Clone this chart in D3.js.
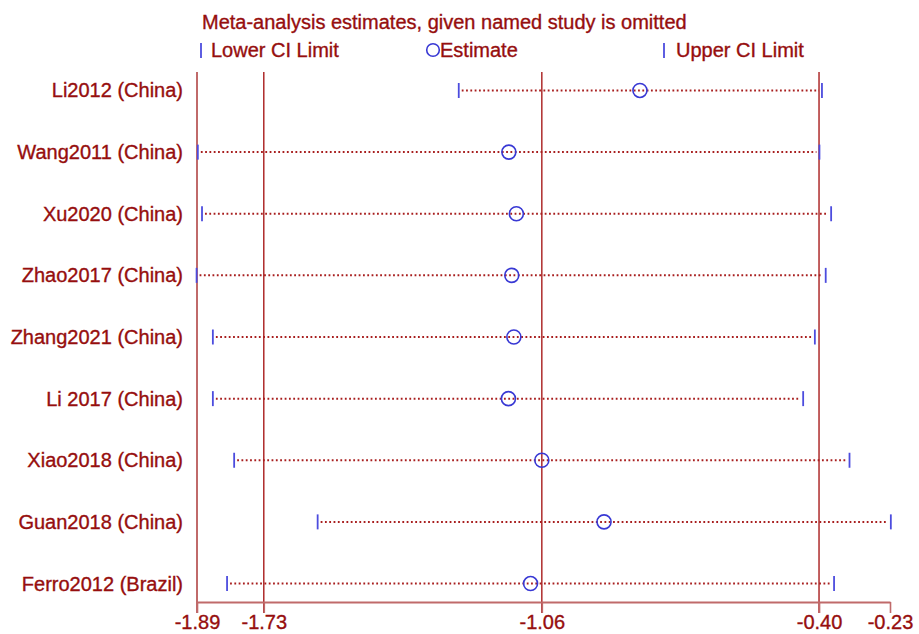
<!DOCTYPE html>
<html>
<head>
<meta charset="utf-8">
<script src="https://cdn.jsdelivr.net/npm/d3@7"></script>
<style>
  body { margin: 0; background: #fff; }
  svg { display: block; font-family: "Liberation Sans", Arial, Helvetica, sans-serif; }
</style>
</head>
<body>
<svg id="chart" width="919" height="634"></svg>
<script>
// Studies (one row each, top to bottom)
const studies = [
  "Li2012 (China)", "Wang2011 (China)", "Xu2020 (China)", "Zhao2017 (China)",
  "Zhang2021 (China)", "Li 2017 (China)", "Xiao2018 (China)", "Guan2018 (China)",
  "Ferro2012 (Brazil)"
];
// Estimate with the named study omitted, and its CI
const estimates = [-0.829, -1.143, -1.125, -1.136, -1.131, -1.144, -1.064, -0.915, -1.091];
const lowerCI   = [-1.263, -1.888, -1.878, -1.891, -1.852, -1.852, -1.801, -1.601, -1.818];
const upperCI   = [-0.393, -0.399, -0.371, -0.384, -0.410, -0.438, -0.327, -0.228, -0.364];

// x axis: min, lower CI, estimate, upper CI, max of the full analysis
const tickValues = [-1.89, -1.73, -1.064, -0.40, -0.23];
const refLines = [-1.73, -1.064, -0.40];

const TITLE = "Meta-analysis estimates, given named study is omitted";
const legendLabels = ["Lower CI Limit", "Estimate", "Upper CI Limit"];

const RED = "#960e0e";
const LINE_RED = "#a81c1c";
const DOT_RED = "#a81e1e";
const AXIS_RED = "#c06a6a";
const BLUE = "#3838d4";
const TICK_BLUE = "#4c4cde";

const svg = d3.select("#chart");

const x = d3.scaleLinear().domain([-1.89, -0.23]).range([197, 890]);
const y = d3.scalePoint().domain(studies).range([72, 602]).padding(0.3);

const rows = studies.map((s, i) => ({
  name: s, est: estimates[i], lo: lowerCI[i], hi: upperCI[i]
}));

// text helper, slight stroke to get the heavier look of the original
function label(sel) {
  return sel.attr("font-size", 20)
    .attr("fill", RED)
    .attr("stroke", RED)
    .attr("stroke-width", 0.35);
}

// Title
svg.append("text")
  .attr("x", 202).attr("y", 29)
  .call(label)
  .text(TITLE);

// Legend
const leg = svg.append("g");
leg.append("line").attr("x1", 201).attr("x2", 201).attr("y1", 43).attr("y2", 58)
  .attr("stroke", TICK_BLUE).attr("stroke-width", 1.8);
leg.append("text").attr("x", 211).attr("y", 57).call(label)
  .text(legendLabels[0]);
leg.append("circle").attr("cx", 433).attr("cy", 50).attr("r", 6.3)
  .attr("fill", "none").attr("stroke", BLUE).attr("stroke-width", 1.6);
leg.append("text").attr("x", 440).attr("y", 57).call(label)
  .text(legendLabels[1]);
leg.append("line").attr("x1", 664).attr("x2", 664).attr("y1", 43).attr("y2", 58)
  .attr("stroke", TICK_BLUE).attr("stroke-width", 1.8);
leg.append("text").attr("x", 676).attr("y", 57).call(label)
  .text(legendLabels[2]);

// Reference lines (run down through the axis like ticks)
svg.append("g")
  .selectAll("line")
  .data(refLines)
  .enter()
  .append("line")
  .attr("x1", d => x(d)).attr("x2", d => x(d))
  .attr("y1", 72).attr("y2", 613)
  .attr("stroke", LINE_RED).attr("stroke-width", 1.4);

// Left axis line
svg.append("line")
  .attr("x1", x(-1.89)).attr("x2", x(-1.89))
  .attr("y1", 72).attr("y2", 613)
  .attr("stroke", AXIS_RED).attr("stroke-width", 2);

// Bottom axis
const xAxis = d3.axisBottom(x)
  .tickValues(tickValues)
  .tickFormat(d => d.toFixed(2))
  .tickSizeOuter(0)
  .tickSizeInner(11);

const gx = svg.append("g")
  .attr("transform", "translate(0,602)")
  .call(xAxis);
gx.select(".domain").attr("stroke", AXIS_RED).attr("stroke-width", 2);
gx.selectAll(".tick line").attr("stroke", AXIS_RED).attr("stroke-width", 1.6);
gx.selectAll(".tick text")
  .attr("font-family", "Liberation Sans, Arial, sans-serif")
  .call(label)
  .attr("y", 27)
  .attr("dy", 0);

// Study labels
svg.append("g")
  .selectAll("text")
  .data(rows)
  .enter()
  .append("text")
  .attr("x", 183)
  .attr("y", d => y(d.name) + 7)
  .attr("text-anchor", "end")
  .call(label)
  .text(d => d.name);

// Dotted CI lines
svg.append("g")
  .selectAll("line")
  .data(rows)
  .enter()
  .append("line")
  .attr("x1", d => x(d.lo) + 3).attr("x2", d => x(d.hi) - 3)
  .attr("y1", d => y(d.name)).attr("y2", d => y(d.name))
  .attr("stroke", DOT_RED).attr("stroke-width", 2)
  .attr("stroke-dasharray", "1.8 2.5");

// CI limit ticks
const tickG = svg.append("g");
tickG.selectAll("line.lo")
  .data(rows)
  .enter()
  .append("line")
  .attr("class", "lo")
  .attr("x1", d => x(d.lo)).attr("x2", d => x(d.lo))
  .attr("y1", d => y(d.name) - 7.5).attr("y2", d => y(d.name) + 7.5)
  .attr("stroke", TICK_BLUE).attr("stroke-width", 1.8);
tickG.selectAll("line.hi")
  .data(rows)
  .enter()
  .append("line")
  .attr("class", "hi")
  .attr("x1", d => x(d.hi)).attr("x2", d => x(d.hi))
  .attr("y1", d => y(d.name) - 7.5).attr("y2", d => y(d.name) + 7.5)
  .attr("stroke", TICK_BLUE).attr("stroke-width", 1.8);

// Estimates
svg.append("g")
  .selectAll("circle")
  .data(rows)
  .enter()
  .append("circle")
  .attr("cx", d => x(d.est))
  .attr("cy", d => y(d.name))
  .attr("r", 7)
  .attr("fill", "none")
  .attr("stroke", BLUE)
  .attr("stroke-width", 1.6);
</script>
</body>
</html>
